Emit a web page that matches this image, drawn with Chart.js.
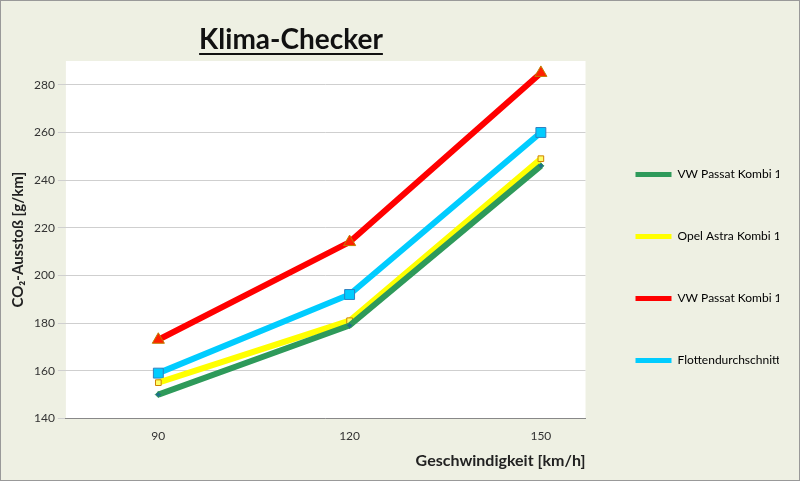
<!DOCTYPE html><html><head><script src="https://cdn.jsdelivr.net/npm/chart.js@4"></script>
<style>body{margin:0;background:#fff}#w{width:798px;height:479px;border:1px solid #999;background:#eef0e3;position:relative}</style></head><body><div id="w"><canvas id="c" width="798" height="479"></canvas></div>
<script>
const speeds=[90,120,150];
const passat66=[150,179,246];
const astra55=[155,181,249];
const passat74=[173,214,285];
const flotte=[159,192,260];
const yTicks=[140,160,180,200,220,240,260,280];
const mk=(v)=>v.map((y,i)=>({x:speeds[i],y}));
const titlePlugin={id:'t',afterDraw(ch){const c=ch.ctx;c.save();c.font='bold 28px Lato';c.fillStyle='#111';c.textAlign='center';c.fillText('Klima-Checker',290,48);const w=c.measureText('Klima-Checker').width;c.fillRect(290-w/2,52,w,2);c.restore();}};
const bg={id:'bg',beforeDraw(ch){const a=ch.chartArea,c=ch.ctx;c.save();c.fillStyle='#fff';c.fillRect(a.left,a.top,a.right-a.left,a.bottom-a.top);c.restore();}};
new Chart(document.getElementById('c'),{type:'line',
data:{datasets:[
{label:'VW Passat Kombi 1,8L 66 kW',data:mk(passat66),borderColor:'#2e9a5a',backgroundColor:'#1f6f8a',borderWidth:6,pointStyle:'rectRot',pointRadius:3,pointBorderWidth:1},
{label:'Opel Astra Kombi 1,6L 55 kW',data:mk(astra55),borderColor:'#ffff00',backgroundColor:'#ffff66',pointBorderColor:'#d08000',borderWidth:6,pointStyle:'rect',pointRadius:4,pointBorderWidth:1},
{label:'VW Passat Kombi 1,6L 74 kW',data:mk(passat74),borderColor:'#ff0000',backgroundColor:'#ff2000',pointBorderColor:'#c08000',borderWidth:6,pointStyle:'triangle',pointRadius:7,pointBorderWidth:1},
{label:'Flottendurchschnitt',data:mk(flotte),borderColor:'#00ccff',backgroundColor:'#00ccff',pointBorderColor:'#3080c0',borderWidth:6,pointStyle:'rect',pointRadius:7,pointBorderWidth:1}
]},
options:{responsive:false,animation:false,devicePixelRatio:1,
layout:{padding:{top:60,right:20,left:4,bottom:6}},
plugins:{legend:{position:'right',labels:{boxWidth:36,boxHeight:5,padding:50,color:'#222',font:{family:'Lato',size:12},
generateLabels(ch){return ch.data.datasets.map((d,i)=>({text:d.label,fillStyle:d.borderColor,strokeStyle:d.borderColor,lineWidth:0,datasetIndex:i}));}}},tooltip:{enabled:false}},
scales:{x:{type:'linear',min:75.5,max:157,afterBuildTicks(s){s.ticks=speeds.map(v=>({value:v}));},grid:{display:false},border:{color:'#888'},ticks:{color:'#333',font:{family:'Lato',size:12}},
title:{display:true,text:'Geschwindigkeit [km/h]',align:'end',color:'#222',font:{family:'Lato',size:16,weight:'bold'}}},
y:{min:140,max:290,afterBuildTicks(s){s.ticks=yTicks.map(v=>({value:v}));},grid:{color:'#cfcfcf'},border:{display:false},ticks:{color:'#333',font:{family:'Lato',size:12}},
title:{display:true,text:'CO₂-Ausstoß [g/km]',color:'#222',font:{family:'Lato',size:15,weight:'bold'}}}}},
plugins:[bg,titlePlugin]});
</script></body></html>
